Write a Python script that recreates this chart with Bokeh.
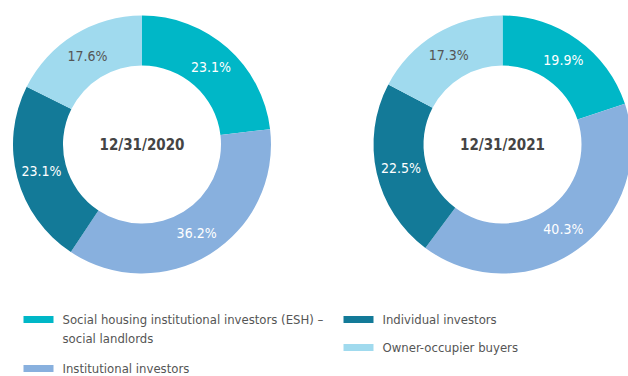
import numpy as np
import pandas as pd
from bokeh.plotting import figure
from bokeh.models import Range1d, ColumnDataSource
from bokeh.core.properties import value
from bokeh.embed import file_html
from bokeh.resources import INLINE

# Breakdown of buyers, share in %
categories = [
    "Social housing institutional investors (ESH) – social landlords",
    "Institutional investors",
    "Individual investors",
    "Owner-occupier buyers",
]
dates = ["12/31/2020", "12/31/2021"]
share_2020 = [23.1, 36.2, 23.1, 17.6]
share_2021 = [19.9, 40.3, 22.5, 17.3]

colors = ["#00B7C7", "#88B0DE", "#137A98", "#A0DAEE"]
label_colors = ["#FFFFFF", "#FFFFFF", "#FFFFFF", "#555555"]

W, H = 628, 376
FONT = "'DejaVu Sans Condensed', 'DejaVu Sans', sans-serif"

p = figure(width=W, height=H, output_backend="svg", toolbar_location=None,
           x_range=Range1d(0, W), y_range=Range1d(0, H), min_border=0)
p.axis.visible = False
p.grid.visible = False
p.outline_line_color = None
p.background_fill_color = "white"
p.border_fill_color = "white"

R_OUT, R_IN = 129, 79
centers = [(141.5, H - 144), (502, H - 144)]

for (cx, cy), date, shares in zip(centers, dates, [share_2020, share_2021]):
    df = pd.DataFrame({"cat": categories, "share": shares,
                       "color": colors, "tcolor": label_colors})
    frac = df["share"] / df["share"].sum() * 2 * np.pi
    before = frac.cumsum() - frac
    df["start"] = np.pi / 2 - before
    df["end"] = np.pi / 2 - (before + frac)
    mid = np.pi / 2 - (before + frac / 2)
    r_mid = (R_OUT + R_IN) / 2
    df["lx"] = cx + r_mid * np.cos(mid)
    df["ly"] = cy + r_mid * np.sin(mid)
    df["label"] = [f"{v:.1f}%" for v in df["share"]]
    src = ColumnDataSource(df)

    p.annular_wedge(x=cx, y=cy, inner_radius=R_IN, outer_radius=R_OUT,
                    start_angle="start", end_angle="end", direction="clock",
                    fill_color="color", line_color=None, source=src)
    p.text(x="lx", y="ly", text="label", text_color="tcolor",
           text_font=value(FONT), text_font_size="14px",
           text_align="center", text_baseline="middle", source=src)
    p.text(x=[cx], y=[cy], text=[date], text_color="#444444",
           text_font=value(FONT), text_font_size="15px", text_font_style="bold",
           text_align="center", text_baseline="middle")

# Legend
legend_x = [23, 23, 343, 343]
legend_y = [319, 368, 319, 347]
legend_text = [
    "Social housing institutional investors (ESH) –\nsocial landlords",
    "Institutional investors",
    "Individual investors",
    "Owner-occupier buyers",
]
p.rect(x=[x + 15 for x in legend_x], y=[H - y for y in legend_y],
       width=30, height=7, fill_color=colors, line_color=None)
for i in range(len(legend_text)):
    lines = legend_text[i].split("\n")
    for j, line in enumerate(lines):
        p.text(x=[legend_x[i] + 39], y=[H - legend_y[i] - 19 * j], text=[line],
               text_color="#555555", text_font=value(FONT),
               text_font_size="13px", text_align="left", text_baseline="middle")

open("out.html", "w").write(file_html(p, INLINE))
